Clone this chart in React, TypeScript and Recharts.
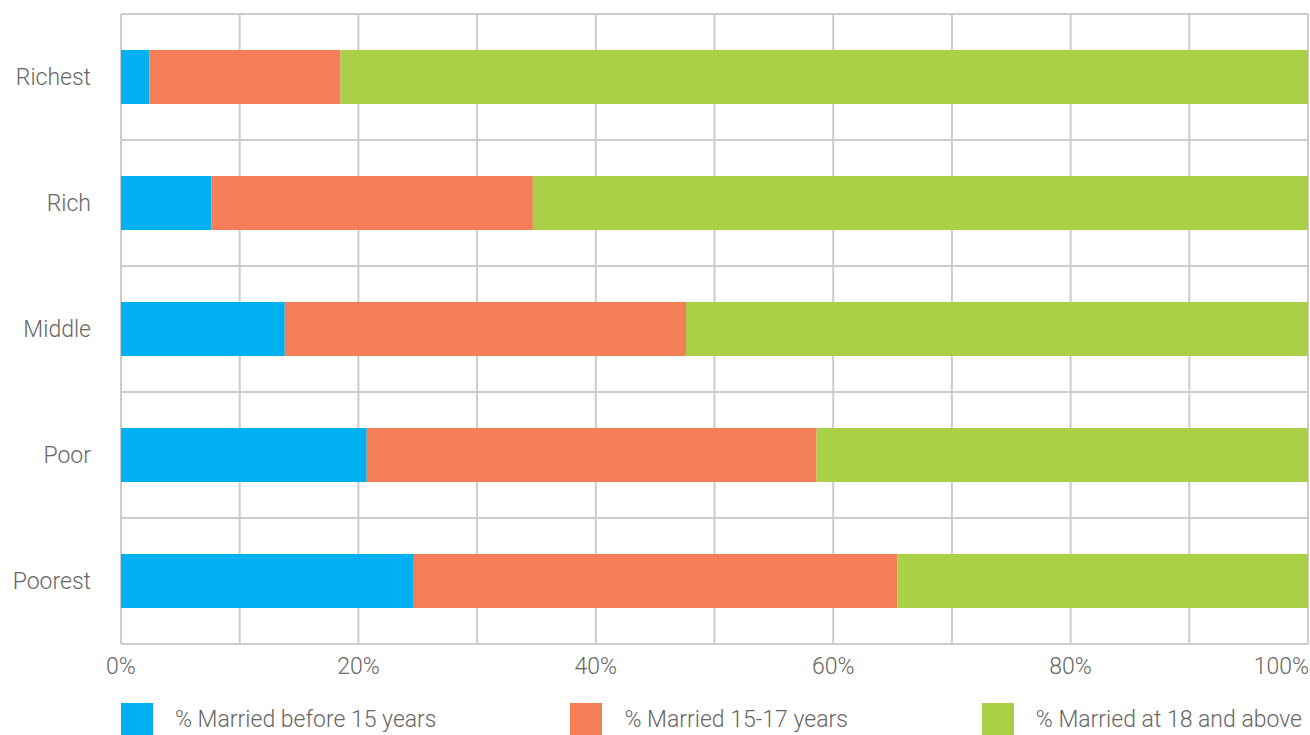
import { BarChart, Bar, XAxis, YAxis, CartesianGrid, Legend } from "recharts";

const GROUPS = ["Richest", "Rich", "Middle", "Poor", "Poorest"];
const BEFORE_15 = [2.4, 7.6, 13.8, 20.7, 24.6];
const AGE_15_17 = [16.1, 27.1, 33.8, 37.9, 40.8];
const AT_18_UP = [81.5, 65.3, 52.4, 41.4, 34.6];
const X_TICKS = [0, 10, 20, 30, 40, 50, 60, 70, 80, 90, 100];

const SERIES = [
  { key: "before15", name: "% Married before 15 years", color: "#00B0F0" },
  { key: "age1517", name: "% Married 15-17 years", color: "#F47F57" },
  { key: "at18", name: "% Married at 18 and above", color: "#A9D047" },
];

const data = GROUPS.map((group, i) => ({
  group,
  before15: BEFORE_15[i],
  age1517: AGE_15_17[i],
  at18: AT_18_UP[i],
}));

const FONT = "Roboto, 'Noto Sans', sans-serif";
const TEXT = "#666666";
const GRID = "#CCCCCC";
const W = 1310;
const H = 735;
const PLOT_LEFT = 121;

// grid lines between the category bands, not through their middles
const bandLines = ({ offset }: any) =>
  GROUPS.map((_, i) => offset.top + (i * offset.height) / GROUPS.length).concat(
    offset.top + offset.height
  );

// percent labels every 20, last one pulled inside the right edge
function XTick(props: any) {
  const { x, y, payload } = props;
  const v = payload.value;
  if (v % 20 !== 0) return null;
  const last = v === X_TICKS[X_TICKS.length - 1];
  return (
    <text
      x={last ? x + 1 : x}
      y={y}
      dy="0.71em"
      textAnchor={last ? "end" : "middle"}
      fill={TEXT}
      fontSize={23}
      fontFamily={FONT}
      fontWeight={300}
    >
      {`${v}%`}
    </text>
  );
}

function LegendRow() {
  return (
    <div
      style={{
        marginLeft: PLOT_LEFT,
        width: W - PLOT_LEFT - 8,
        height: 36,
        display: "flex",
        justifyContent: "space-between",
        alignItems: "flex-start",
        paddingTop: 4,
        boxSizing: "border-box",
        fontFamily: FONT,
        fontWeight: 300,
        fontSize: 23,
        color: TEXT,
      }}
    >
      {SERIES.map((s) => (
        <div key={s.key} style={{ display: "flex", alignItems: "center", height: 32 }}>
          <span style={{ width: 32, height: 32, background: s.color, marginRight: 22 }} />
          <span style={{ whiteSpace: "nowrap" }}>{s.name}</span>
        </div>
      ))}
    </div>
  );
}

export default function App() {
  return (
    <div style={{ position: "fixed", top: 0, left: 0, width: W, height: H, background: "#fff" }}>
      <BarChart
        width={W}
        height={H}
        data={data}
        layout="vertical"
        barSize={54}
        margin={{ top: 14, right: 2, left: 0, bottom: 0 }}
      >
        <CartesianGrid
          stroke={GRID}
          strokeWidth={2}
          horizontalCoordinatesGenerator={bandLines}
        />
        <XAxis
          type="number"
          domain={[0, 100]}
          ticks={X_TICKS}
          axisLine={false}
          tickLine={false}
          tickMargin={8}
          height={55}
          interval={0}
          tick={<XTick />}
        />
        <YAxis
          type="category"
          dataKey="group"
          width={PLOT_LEFT}
          axisLine={false}
          tickLine={false}
          tickMargin={24}
          tick={{ fill: TEXT, fontSize: 23, fontFamily: FONT, fontWeight: 300 }}
        />
        <Legend verticalAlign="bottom" content={() => <LegendRow />} />
        {SERIES.map((s) => (
          <Bar
            key={s.key}
            dataKey={s.key}
            name={s.name}
            stackId="a"
            fill={s.color}
            isAnimationActive={false}
          />
        ))}
      </BarChart>
    </div>
  );
}
